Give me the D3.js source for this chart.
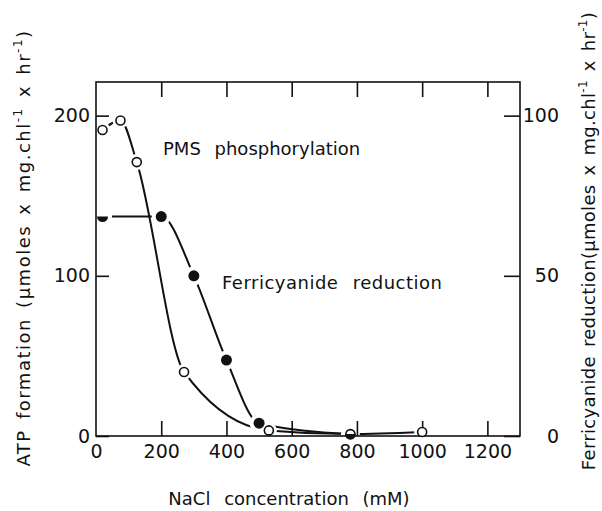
<!DOCTYPE html>
<html>
<head>
<meta charset="utf-8">
<script src="https://cdn.jsdelivr.net/npm/d3@7"></script>
<style>
  body { margin: 0; background: #fff; }
  svg text { font-family: "DejaVu Sans", sans-serif; fill: #111; }
</style>
</head>
<body>
<svg width="602" height="511"></svg>
<script>
// ---- data ----
var naclTicks = [0, 200, 400, 600, 800, 1000, 1200];
var atpTicks = [0, 100, 200];
var ferriTicks = [0, 50, 100];

// PMS phosphorylation (open circles, left axis)
var pmsNaCl = [20, 75, 125, 270, 530, 780, 1000];
var pmsATP  = [191, 197, 171, 40, 3.5, 1.2, 2.5];

// Ferricyanide reduction (filled circles, right axis)
var ferriNaCl = [20, 200, 300, 400, 500, 780];
var ferriRate = [68.5, 68.5, 50, 23.7, 4, 0.6];

/*================================ setup ================================*/
var svg = d3.select("svg"),
    plotL = 96, plotR = 520, plotT = 82, plotB = 436;

var x = d3.scaleLinear().domain([0, 1300]).range([plotL, plotR]);
var yL = d3.scaleLinear().domain([0, 221]).range([plotB, plotT]);
var yR = d3.scaleLinear().domain([0, 110.5]).range([plotB, plotT]);

var pms = pmsNaCl.map((d, i) => ({ x: d, y: pmsATP[i] }));
var ferri = ferriNaCl.map((d, i) => ({ x: d, y: ferriRate[i] }));

var line = d3.line().curve(d3.curveMonotoneX);

// curves
svg.append("path")
    .attr("d", line(pms.map(d => [x(d.x), yL(d.y)])))
    .attr("fill", "none").attr("stroke", "#111").attr("stroke-width", 2);
svg.append("path")
    .attr("d", line(ferri.map(d => [x(d.x), yR(d.y)])))
    .attr("fill", "none").attr("stroke", "#111").attr("stroke-width", 2);

// white gaps round the markers
svg.append("g").selectAll("circle").data(pms).join("circle")
    .attr("cx", d => x(d.x)).attr("cy", d => yL(d.y)).attr("r", 8).attr("fill", "#fff");
svg.append("g").selectAll("circle").data(ferri).join("circle")
    .attr("cx", d => x(d.x)).attr("cy", d => yR(d.y)).attr("r", 9.5).attr("fill", "#fff");

// frame
svg.append("rect")
    .attr("x", plotL).attr("y", plotT).attr("width", plotR - plotL).attr("height", plotB - plotT)
    .attr("fill", "none").attr("stroke", "#111").attr("stroke-width", 1.6);

/*================================ axes ================================*/
function styleAxis(g) {
    g.select(".domain").remove();
    g.selectAll("line").attr("stroke", "#111").attr("stroke-width", 1.6);
    g.selectAll("text").attr("font-size", 19).attr("fill", "#111").attr("font-family", null);
}

svg.append("g").attr("transform", "translate(0," + plotB + ")")
    .call(d3.axisBottom(x).tickValues(naclTicks).tickFormat(d3.format("d"))
        .tickSizeInner(-15).tickSizeOuter(0).tickPadding(9))
    .call(styleAxis)
    .call(g => g.selectAll(".tick").filter(d => d === 0).select("line").remove());

svg.append("g").attr("transform", "translate(0," + plotT + ")")
    .call(d3.axisTop(x).tickValues(naclTicks.slice(1)).tickSizeInner(-15).tickSizeOuter(0).tickFormat(""))
    .call(styleAxis);

svg.append("g").attr("transform", "translate(" + plotL + ",0)")
    .call(d3.axisLeft(yL).tickValues(atpTicks).tickSizeInner(-13).tickSizeOuter(0).tickPadding(6))
    .call(styleAxis);

svg.append("g").attr("transform", "translate(" + plotR + ",0)")
    .call(d3.axisRight(yR).tickValues(ferriTicks).tickSizeInner(-16).tickSizeOuter(0))
    .call(styleAxis)
    .call(g => g.selectAll("text").attr("text-anchor", "end").attr("x", 39));

/*================================ markers ================================*/
var arc = d3.arc().innerRadius(0).outerRadius(5.5);

svg.append("g").selectAll("circle").data(pms).join("circle")
    .attr("cx", d => x(d.x)).attr("cy", d => yL(d.y)).attr("r", 4.5)
    .attr("fill", "#fff").attr("stroke", "#111").attr("stroke-width", 1.6);

// a filled point hidden under an open one shows only its lower half
svg.append("g").selectAll("path").data(ferri).join("path")
    .attr("transform", d => "translate(" + x(d.x) + "," + yR(d.y) + ")")
    .attr("d", d => pmsNaCl.indexOf(d.x) >= 0
        ? arc({ startAngle: Math.PI / 2, endAngle: 3 * Math.PI / 2 })
        : arc({ startAngle: 0, endAngle: 2 * Math.PI }))
    .attr("fill", "#111");

/*================================ text ================================*/
svg.append("text").attr("x", 163).attr("y", 155).attr("font-size", 18)
    .attr("word-spacing", 8).text("PMS phosphorylation");
svg.append("text").attr("x", 222).attr("y", 289).attr("font-size", 18)
    .attr("word-spacing", 8).attr("letter-spacing", 0.5).text("Ferricyanide reduction");

svg.append("text").attr("x", 289).attr("y", 505).attr("font-size", 18)
    .attr("text-anchor", "middle").attr("word-spacing", 8).text("NaCl concentration (mM)");

function unitTitle(t, pre) {
    t.append("tspan").text(pre + "(\u03bcmoles x mg.chl");
    t.append("tspan").attr("dy", -8).attr("font-size", 12).text("-1");
    t.append("tspan").attr("dy", 8).text(" x hr");
    t.append("tspan").attr("dy", -8).attr("font-size", 12).text("-1");
    t.append("tspan").attr("dy", 8).text(")");
}

svg.append("text").attr("transform", "translate(30,248) rotate(-90)")
    .attr("text-anchor", "middle").attr("font-size", 18).attr("letter-spacing", 1.5)
    .attr("word-spacing", 3)
    .call(unitTitle, "ATP  formation ");

svg.append("text").attr("transform", "translate(595,241) rotate(-90)")
    .attr("text-anchor", "middle").attr("font-size", 18).attr("letter-spacing", 0.3)
    .attr("word-spacing", 3)
    .call(unitTitle, "Ferricyanide  reduction");
</script>
</body>
</html>
